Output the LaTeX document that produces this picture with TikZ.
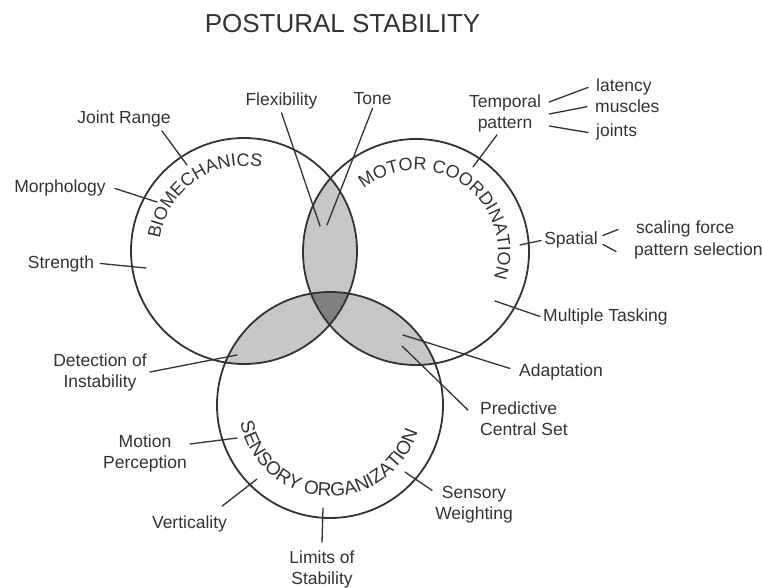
\documentclass[tikz,border=0pt]{standalone}
\usepackage{fontspec}
\setmainfont{Liberation Sans}
\usetikzlibrary{decorations.text}

\begin{document}
\begin{tikzpicture}[line join=round, line cap=round, x=1pt, y=1pt,
	font=\fontsize{17.5}{21}\selectfont,
	lbl/.style={inner sep=3pt, text=black!80},
	ring/.style={line width=1.8pt, draw=black!80},
	lead/.style={line width=1.3pt, draw=black!80},
	lens/.style={fill=black!22},
	core/.style={fill=black!50}]
	\useasboundingbox (0,0) rectangle (762,587);
	
	% Centres of the three circles
	\coordinate (B) at (244,336);
	\coordinate (M) at (416,335);
	\coordinate (S) at (330,182);
	
	% Title
	\node[lbl, font=\fontsize{26}{30}\selectfont, anchor=base] (title) at (342.5,554) {POSTURAL STABILITY};
	
	% Overlaps
	\begin{scope}
		\clip (B) circle[radius=113];
		\fill[lens] (M) circle[radius=113];
		\fill[lens] (S) circle[radius=113];
	\end{scope}
	\begin{scope}
		\clip (M) circle[radius=113];
		\fill[lens] (S) circle[radius=113];
	\end{scope}
	\begin{scope}
		\clip (B) circle[radius=113];
		\clip (M) circle[radius=113];
		\fill[core] (S) circle[radius=113];
	\end{scope}
	
	% Circles
	\foreach \c in {B, M, S} {
		\draw[ring] (\c) circle[radius=113];
	}
	
	% Curved names
	\path[decorate, decoration={text along path, text align=center, text color=black!80,
		text={|\fontsize{18}{18}\selectfont|BIOMECHANICS}}]
		([shift={(185:85)}]B) arc[start angle=185, end angle=65, radius=85];
	\path[decorate, decoration={text along path, text align=center, text color=black!80,
		text={|\fontsize{18}{18}\selectfont|MOTOR COORDINATION}}]
		([shift={(135.5:82)}]M) arc[start angle=135.5, end angle=-24.5, radius=82];
	\path[decorate, decoration={text along path, text align=center, text color=black!80,
		text={|\fontsize{19}{19}\selectfont|SENSORY ORGANIZATION}}]
		([shift={(182.3:91.5)}]S) arc[start angle=182.3, end angle=352.3, radius=91.5];
	
	% Labels
	\node[lbl, anchor=base] (joint) at (124,463) {Joint Range};
	\node[lbl, anchor=base] (morph) at (60,394) {Morphology};
	\node[lbl, anchor=base] (str) at (61,319) {Strength};
	\node[lbl, align=center] (detect) at (100,215) {Detection of\\Instability};
	\node[lbl, anchor=base] (flex) at (281.5,481) {Flexibility};
	\node[lbl, anchor=base] (tone) at (372.5,482) {Tone};
	\node[lbl, align=center] (temp) at (505,474) {Temporal\\pattern};
	\node[lbl, anchor=base west] (lat) at (593,495) {latency};
	\node[lbl, anchor=base west] (musc) at (592,474) {muscles};
	\node[lbl, anchor=base west] (jnts) at (593,450) {joints};
	\node[lbl, anchor=base] (spatial) at (571,342) {Spatial};
	\node[lbl, anchor=base west] (scal) at (633,353) {scaling force};
	\node[lbl, anchor=base west] (patsel) at (631,331) {pattern selection};
	\node[lbl, anchor=base west] (mult) at (540,266) {Multiple Tasking};
	\node[lbl, anchor=base west] (adapt) at (516,211) {Adaptation};
	\node[lbl, align=left, anchor=west] (pred) at (477,167.9) {Predictive\\Central Set};
	\node[lbl, align=center] (motion) at (145,134) {Motion\\Perception};
	\node[lbl, anchor=base] (vert) at (189.5,59) {Verticality};
	\node[lbl, align=center] (limits) at (322,18) {Limits of\\Stability};
	\node[lbl, align=center] (sens) at (474,82) {Sensory\\Weighting};
	
	% Inner ends of the leaders
	\coordinate (jointin) at (187,422);
	\coordinate (morphin) at (157,385);
	\coordinate (strin) at (146,319);
	\coordinate (detin) at (237,232);
	\coordinate (flexin) at (320,361);
	\coordinate (tonein) at (327,362);
	\coordinate (tempin) at (473,420);
	\coordinate (spin) at (520,342);
	\coordinate (multin) at (495,286);
	\coordinate (adaptin) at (403,252);
	\coordinate (predin) at (402,241);
	\coordinate (motin) at (237,149);
	\coordinate (vertin) at (257,108);
	\coordinate (limin) at (323,79);
	\coordinate (sensin) at (405,115);
	
	% Leaders
	\draw[lead] ([xshift=-12pt]joint.south east) -- (jointin);
	\draw[lead] ([xshift=6pt]morph.east) -- (morphin);
	\draw[lead] ([xshift=3pt]str.east) -- (strin);
	\draw[lead] (detect.east) -- (detin);
	\draw[lead] (flex.south) -- (flexin);
	\draw[lead] (tone.south) -- (tonein);
	\draw[lead] ([xshift=-8pt]temp.south) -- (tempin);
	\draw[lead] ([shift={(5,11)}]temp.east) -- ([xshift=-5pt]lat.west);
	\draw[lead] ([shift={(5,-1)}]temp.east) -- ([xshift=-5pt]musc.west);
	\draw[lead] ([shift={(5,-13)}]temp.east) -- ([xshift=-5pt]jnts.west);
	\draw[lead] (spatial.west) -- (spin);
	\draw[lead] ([shift={(2,5)}]spatial.east) -- ([xshift=-15pt]scal.west);
	\draw[lead] ([shift={(2,-4)}]spatial.east) -- ([xshift=-15pt]patsel.west);
	\draw[lead] (mult.west) -- (multin);
	\draw[lead] ([shift={(-6,3)}]adapt.west) -- (adaptin);
	\draw[lead] ([shift={(-9,9)}]pred.west) -- (predin);
	\draw[lead] ([yshift=9pt]motion.east) -- (motin);
	\draw[lead] ([shift={(-8,6)}]vert.north east) -- (vertin);
	\draw[lead] ([yshift=5pt]limits.north) -- (limin);
	\draw[lead] ([yshift=-7pt]sens.north west) -- (sensin);
\end{tikzpicture}
\end{document}
